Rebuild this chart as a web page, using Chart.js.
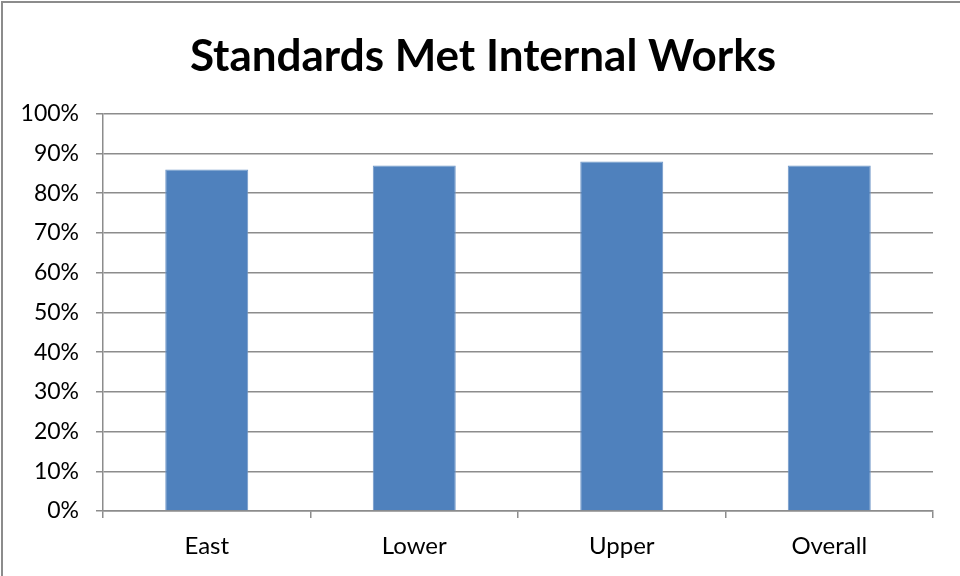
<!DOCTYPE html>
<html>
<head>
<meta charset="utf-8">
<script src="https://cdn.jsdelivr.net/npm/chart.js@4"></script>
<style>
  html, body { margin: 0; padding: 0; background: #fff; }
  #wrap { position: relative; width: 960px; height: 576px; overflow: hidden; }
  #frame { position: absolute; left: 1px; top: 1px; width: 980px; height: 600px; border: 2px solid #8c8c8c; box-sizing: border-box; }
  #c { position: absolute; left: 0; top: 0; }
</style>
</head>
<body>
<div id="wrap">
  <div id="frame"></div>
  <canvas id="c" width="960" height="576"></canvas>
</div>
<script>
// Données
const categories = ['East', 'Lower', 'Upper', 'Overall'];
const standardsMet = [86, 87, 88, 87];
const yTicks = [0, 10, 20, 30, 40, 50, 60, 70, 80, 90, 100];

const gridColor = '#8c8c8c';

const ctx = document.getElementById('c').getContext('2d');
new Chart(ctx, {
    type: 'bar',
    data: {
        labels: categories,
        datasets: [{
            data: standardsMet,
            backgroundColor: '#4f81bd',
            borderColor: '#6f97c8',
            borderWidth: 1,
            barPercentage: 0.4,
            categoryPercentage: 1
        }]
    },
    options: {
        responsive: false,
        animation: false,
        layout: { padding: { left: 6, right: 0, top: 0, bottom: 0 } },
        plugins: {
            legend: { display: false },
            tooltip: { enabled: false },
            title: {
                display: true,
                text: 'Standards Met Internal Works',
                color: '#000',
                font: { family: 'Lato', size: 44, weight: 'bold', lineHeight: 1.2 },
                padding: { top: 30, bottom: 31 }
            }
        },
        scales: {
            x: {
                grid: { display: true, drawOnChartArea: false, drawTicks: true, tickLength: 7, color: gridColor, lineWidth: 1.5 },
                border: { display: true, color: gridColor, width: 1.5 },
                ticks: { color: '#000', font: { family: 'Lato', size: 24 }, padding: 14 },
                afterFit: s => { s.height = 65; }
            },
            y: {
                min: 0,
                max: 100,
                afterBuildTicks: s => { s.ticks = yTicks.map(v => ({ value: v })); },
                grid: { color: gridColor, lineWidth: 1.5, tickLength: 7 },
                border: { display: true, color: gridColor, width: 1.5 },
                ticks: {
                    color: '#000',
                    font: { family: 'Lato', size: 23 },
                    padding: 17,
                    callback: v => v + '%'
                },
                afterFit: s => { s.width = 97; }
            },
            // axe vide à droite, juste pour garder la marge de droite
            yRight: {
                position: 'right',
                min: 0,
                max: 100,
                grid: { display: false },
                border: { display: false },
                ticks: { display: false },
                afterFit: s => { s.width = 27; }
            }
        }
    }
});
</script>
</body>
</html>
